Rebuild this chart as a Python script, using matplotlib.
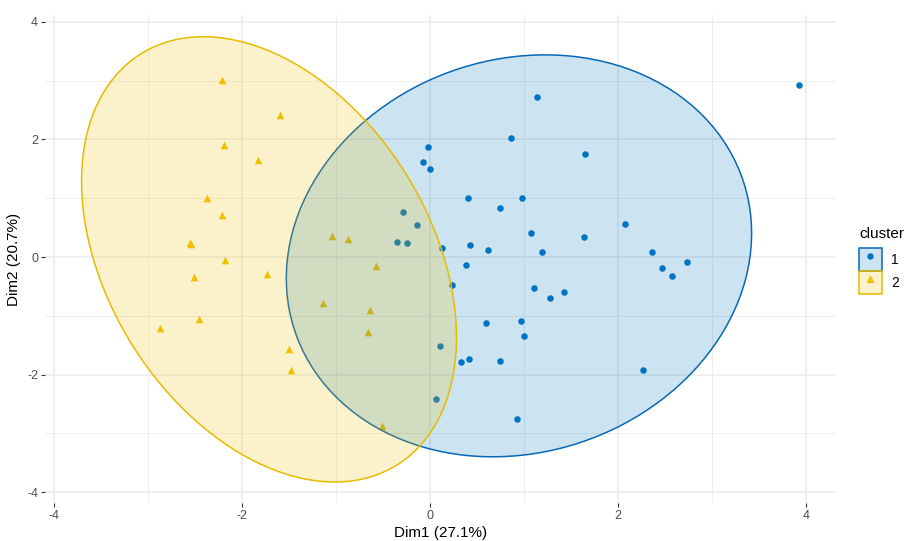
import numpy as np
import matplotlib
matplotlib.use("Agg")
import matplotlib.pyplot as plt
from matplotlib.patches import Ellipse, Patch
from matplotlib.lines import Line2D
from matplotlib.legend_handler import HandlerTuple

plt.rcParams['font.family'] = ['Liberation Sans', 'DejaVu Sans']
plt.rcParams['axes.unicode_minus'] = False

# ---------------- data ----------------
c1_x = [3.93, 1.14, 0.86, -0.02, 1.65, -0.08, 0.00, 0.40, 0.98, 0.74,
        -0.29, -0.14, 2.07, 1.07, 1.64, -0.35, -0.25, 0.13, 0.42, 0.62,
        1.19, 2.36, 2.73, 0.385, 2.47, 2.57, 0.23, 1.11, 1.28, 1.42,
        0.59, 0.97, 1.00, 0.10, 0.33, 0.41, 0.74, 2.27, 0.06, 0.92]
c1_y = [2.93, 2.72, 2.02, 1.87, 1.75, 1.62, 1.50, 1.01, 1.00, 0.84,
        0.77, 0.55, 0.57, 0.41, 0.34, 0.25, 0.24, 0.15, 0.21, 0.12,
        0.08, 0.09, -0.08, -0.14, -0.18, -0.32, -0.47, -0.53, -0.70, -0.59,
        -1.13, -1.09, -1.35, -1.51, -1.78, -1.74, -1.77, -1.93, -2.41, -2.75]

c2_x = [-2.22, -1.60, -2.19, -1.83, -2.38, -2.22, -2.56, -2.54, -2.18, -1.05,
        -0.87, -0.58, -2.51, -1.74, -1.14, -0.64, -0.66, -2.46, -2.87, -1.50,
        -1.48, -0.51]
c2_y = [3.01, 2.42, 1.91, 1.65, 1.01, 0.72, 0.24, 0.22, -0.05, 0.36,
        0.30, -0.16, -0.34, -0.29, -0.79, -0.91, -1.28, -1.05, -1.20, -1.56,
        -1.92, -2.88]

# ellipse centre and covariance-like shape (sxx, syy, sxy)
ell_center = {"1": (0.945, 0.02), "2": (-1.715, -0.04)}
ell_shape = {"1": (6.13, 11.70, 0.95), "2": (3.98, 14.36, -2.65)}

clusters = ["1", "2"]
colors = {"1": "#0073C2", "2": "#EFC000"}
edge_colors = {"1": "#0868B4", "2": "#E8BA00"}
markers = {"1": "o", "2": "^"}
msize = {"1": 22, "2": 30}

x_ticks = [-4, -2, 0, 2, 4]
y_ticks = [-4, -2, 0, 2, 4]


def ellipse_patch(center, shape, color, edge, alpha):
    sxx, syy, sxy = shape
    cov = np.array([[sxx, sxy], [sxy, syy]])
    vals, vecs = np.linalg.eigh(cov)
    ang = np.degrees(np.arctan2(vecs[1, 1], vecs[0, 1]))
    return Ellipse(center, 2 * np.sqrt(vals[1]), 2 * np.sqrt(vals[0]),
                   angle=ang, facecolor=matplotlib.colors.to_rgba(color, alpha),
                   edgecolor=edge, linewidth=1.1, zorder=3)


fig = plt.figure(figsize=(9.07, 5.41), dpi=100)
ax = fig.add_axes([45 / 907, 1 - 503 / 541, (836 - 45) / 907, (503 - 15) / 541])

pts = {"1": (c1_x, c1_y), "2": (c2_x, c2_y)}
for k in clusters:
    ax.scatter(pts[k][0], pts[k][1], s=msize[k], marker=markers[k],
               color=colors[k], linewidths=0, zorder=2)
for k in clusters:
    ax.add_patch(ellipse_patch(ell_center[k], ell_shape[k], colors[k],
                               edge_colors[k], 0.2))

ax.set_xlim(-4.099, 4.319)
ax.set_ylim(-4.187, 4.119)
ax.set_xticks(x_ticks)
ax.set_yticks(y_ticks)
ax.set_xticks([-3, -1, 1, 3], minor=True)
ax.set_yticks([-3, -1, 1, 3], minor=True)
ax.grid(which="major", color="#EBEBEB", linewidth=1.1, zorder=0)
ax.grid(which="minor", color="#EBEBEB", linewidth=0.6, zorder=0)
ax.set_axisbelow(True)
for s in ax.spines.values():
    s.set_visible(False)
ax.tick_params(which="major", length=3, width=0.8, color="#333333",
               labelsize=9, labelcolor="#4D4D4D", pad=2)
ax.tick_params(which="minor", length=0)

ax.set_xlabel("Dim1 (27.1%)", fontsize=11, labelpad=3)
ax.set_ylabel("Dim2 (20.7%)", fontsize=11, labelpad=4)

# legend: filled key box with the marker drawn on top of it
handles = []
for k in clusters:
    box = Patch(facecolor=matplotlib.colors.to_rgba(colors[k], 0.2),
                edgecolor=edge_colors[k], linewidth=1.1)
    mk = Line2D([], [], marker=markers[k], color=colors[k], linestyle="none",
                markersize=4.2 if k == "2" else 3.6)
    handles.append((box, mk))
leg = fig.legend(handles, clusters, title="cluster", loc="upper left",
                 bbox_to_anchor=(859 / 907, 1 - 227 / 541), frameon=False,
                 handler_map={tuple: HandlerTuple(ndivide=1, pad=0)},
                 handlelength=1.65, handleheight=2.17, handletextpad=0.65,
                 labelspacing=0.0, fontsize=10, title_fontsize=11,
                 borderaxespad=0.0, borderpad=0.0)
leg._legend_box.align = "left"
leg._legend_box.sep = 5

fig.savefig("out.png", dpi=100)
